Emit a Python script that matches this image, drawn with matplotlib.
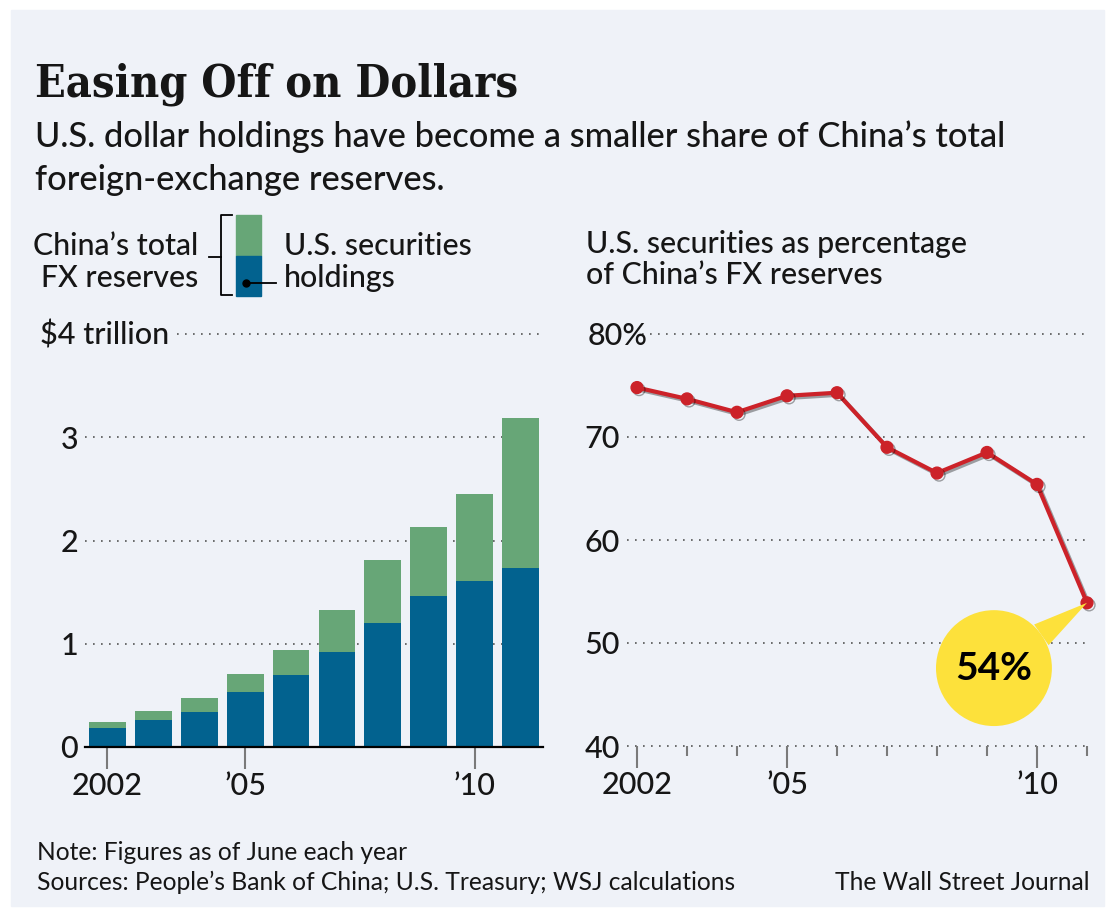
import matplotlib
matplotlib.use("Agg")
import matplotlib.pyplot as plt
import matplotlib.patheffects as pe
from matplotlib.patches import Rectangle
from matplotlib.lines import Line2D
import numpy as np

# data (figures as of June each year)
years = np.arange(2002, 2012)
total_reserves = [0.24, 0.35, 0.47, 0.71, 0.94, 1.33, 1.81, 2.13, 2.45, 3.19]   # $ trillion
us_holdings = [0.18, 0.26, 0.34, 0.53, 0.70, 0.92, 1.20, 1.46, 1.61, 1.73]      # $ trillion
us_share = [74.8, 73.7, 72.4, 74.0, 74.3, 69.0, 66.5, 68.5, 65.4, 53.9]         # percent
tick_years = [2002, 2005, 2010]
tick_labels = ["2002", "\u201905", "\u201910"]
left_yticks = [0, 1, 2, 3]
right_yticks = [40, 50, 60, 70]

BG = "#eff2f8"
GREEN = "#67a677"
BLUE = "#02628f"
RED = "#cc2229"
YELLOW = "#fde13b"
GRID = "#555555"
TXT = "#161616"
SANS = ["Lato", "DejaVu Sans"]
NARROW = ["Liberation Sans Narrow", "Lato", "DejaVu Sans"]
DOTS = (0, (1, 3.8))

W, H = 1110, 919


def fx(x):
    return x / W


def fy(y):
    return 1 - y / H


fig = plt.figure(figsize=(W / 100, H / 100), dpi=100)
fig.patch.set_facecolor("white")
fig.add_artist(Rectangle((fx(11), fy(906)), (1104 - 11) / W, (906 - 10) / H,
                         transform=fig.transFigure, color=BG, zorder=-5))
renderer = fig.canvas.get_renderer()


def fit_text(x, y, s, width, **kw):
    # scale the font so the string spans the given pixel width
    t = fig.text(fx(x), fy(y), s, **kw)
    w = t.get_window_extent(renderer).width
    t.set_fontsize(t.get_fontsize() * width / w)
    return t


# headline block
fit_text(35, 97, "Easing Off on Dollars", 483, family="DejaVu Serif", weight="bold",
         fontstretch="condensed", fontsize=30, va="baseline", color=TXT)
sub = fit_text(35, 147, "U.S. dollar holdings have become a smaller share of China\u2019s total", 972,
               family=SANS, weight="medium", fontsize=22, va="baseline", color=TXT)
fig.text(fx(35), fy(190), "foreign-exchange reserves.", family=SANS, weight="medium",
         fontsize=sub.get_fontsize(), va="baseline", color=TXT)

# chart headers / key
hdr = fit_text(586, 253, "U.S. securities as percentage", 381, family=SANS, weight="medium",
               fontsize=18, va="baseline", color=TXT)
hs = hdr.get_fontsize()
kw = dict(family=SANS, weight="medium", fontsize=hs, va="baseline", color=TXT)
fig.text(fx(586), fy(284), "of China\u2019s FX reserves", **kw)
fig.text(fx(198), fy(255), "China\u2019s total", ha="right", **kw)
fig.text(fx(198), fy(287), "FX reserves", ha="right", **kw)
fig.text(fx(284), fy(255), "U.S. securities", **kw)
fig.text(fx(284), fy(287), "holdings", **kw)

fig.add_artist(Rectangle((fx(236), fy(256)), 25 / W, 41 / H, transform=fig.transFigure, color=GREEN))
fig.add_artist(Rectangle((fx(236), fy(296)), 25 / W, 40 / H, transform=fig.transFigure, color=BLUE))
fig.add_artist(Line2D([fx(232), fx(221), fx(221), fx(232)], [fy(215), fy(215), fy(295), fy(295)],
                      transform=fig.transFigure, color="black", lw=1.3))
fig.add_artist(Line2D([fx(209), fx(221)], [fy(257), fy(257)], transform=fig.transFigure, color="black", lw=1.3))
fig.add_artist(Line2D([fx(246), fx(276)], [fy(283), fy(283)], transform=fig.transFigure, color="black",
                      lw=1.3, marker="o", markevery=[0], ms=5))

# ---- left: stacked bars ----
ax1 = fig.add_axes([fx(85), fy(747), (543 - 85) / W, (747 - 334) / H])
ax1.patch.set_visible(False)
ax1.bar(years, us_holdings, width=0.8, color=BLUE, zorder=2)
ax1.bar(years, np.subtract(total_reserves, us_holdings), bottom=us_holdings, width=0.8,
        color=GREEN, zorder=2)
ax1.set_xlim(2001.51, 2011.49)
ax1.set_ylim(0, 4)
for v in left_yticks[1:]:
    ax1.axhline(v, xmin=0, xmax=0.993, color=GRID, lw=1.2, ls=DOTS, zorder=1)
ax1.axhline(4, xmin=0.2, xmax=0.993, color=GRID, lw=1.2, ls=DOTS, zorder=1, clip_on=False)
ax1.set_yticks(left_yticks)
ax1.set_yticklabels([str(v) for v in left_yticks], family=SANS, weight="medium")
ax1.set_xticks(tick_years)
ax1.set_xticklabels(tick_labels, family=SANS, weight="medium")
ax1.tick_params(axis="y", length=0, pad=5, labelsize=22, labelcolor=TXT)
ax1.tick_params(axis="x", length=16, width=1.5, color="#7a7a7a", pad=2, labelsize=22, labelcolor=TXT)
for s in ["top", "left", "right"]:
    ax1.spines[s].set_visible(False)
ax1.spines["bottom"].set_linewidth(1.6)
ax1.spines["bottom"].set_zorder(3)
fig.text(fx(40), fy(345), "$4 trillion", family=SANS, weight="medium", fontsize=22,
         va="baseline", color=TXT)

# ---- right: share line ----
ax2 = fig.add_axes([fx(627), fy(746), (1092 - 627) / W, (746 - 334) / H])
ax2.patch.set_visible(False)
ax2.set_xlim(2001.8, 2011.1)
ax2.set_ylim(40, 80)
for v in right_yticks:
    ax2.axhline(v, xmin=0, xmax=0.987, color=GRID, lw=1.2, ls=DOTS, zorder=1, clip_on=False)
ax2.axhline(80, xmin=0.032, xmax=0.987, color=GRID, lw=1.2, ls=DOTS, zorder=1, clip_on=False)
ax2.plot(years, us_share, color=RED, lw=3, marker="o", ms=8.5, clip_on=False, zorder=3,
         path_effects=[pe.SimpleLineShadow(offset=(1.5, -1.5), alpha=0.35), pe.Normal()])
ax2.set_yticks(right_yticks)
ax2.set_yticklabels([str(v) for v in right_yticks], family=SANS, weight="medium")
ax2.set_xticks(tick_years)
ax2.set_xticklabels(tick_labels, family=SANS, weight="medium")
ax2.set_xticks(years, minor=True)
ax2.tick_params(axis="y", length=0, pad=5, labelsize=22, labelcolor=TXT)
ax2.tick_params(axis="x", which="major", length=16, width=1.5, color="#7a7a7a", pad=2,
                labelsize=22, labelcolor=TXT)
ax2.tick_params(axis="x", which="minor", length=7, width=1.5, color="#7a7a7a")
for s in ax2.spines.values():
    s.set_visible(False)
fig.text(fx(588), fy(345), "80%", family=SANS, weight="medium", fontsize=22, va="baseline", color=TXT)

ax2.annotate(f"{us_share[-1]:.0f}%", xy=(years[-1], us_share[-1]), xytext=(-67, -47),
             textcoords="offset points", ha="center", va="center", family=SANS, weight="bold",
             fontsize=28, color="black", zorder=4,
             bbox=dict(boxstyle="circle,pad=0.5", fc=YELLOW, ec="none"),
             arrowprops=dict(arrowstyle="wedge,tail_width=0.65", fc=YELLOW, ec="none",
                             shrinkA=0, shrinkB=0))

# footer
fit_text(37, 860, "Note: Figures as of June each year", 371, family=NARROW, fontsize=15,
         va="baseline", color=TXT)
fit_text(37, 890, "Sources: People\u2019s Bank of China; U.S. Treasury; WSJ calculations", 700,
         family=NARROW, fontsize=15, va="baseline", color=TXT)
fit_text(1090, 890, "The Wall Street Journal", 255, family=NARROW, fontsize=15, va="baseline",
         ha="right", color=TXT)

fig.savefig("out.png", dpi=100, facecolor=fig.get_facecolor())
